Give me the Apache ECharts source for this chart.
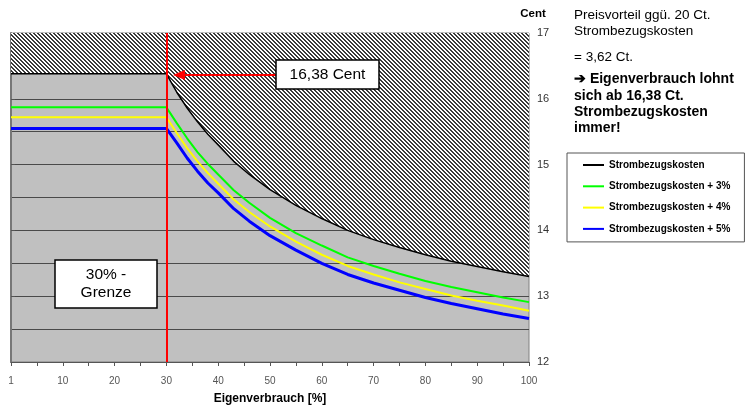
<!DOCTYPE html>
<html>
<head>
<meta charset="utf-8">
<script src="https://cdn.jsdelivr.net/npm/echarts@6/dist/echarts.min.js"></script>
<style>
  html, body { margin: 0; padding: 0; background: #fff; }
  #main { width: 750px; height: 411px; }
</style>
</head>
<body>
<div id="main"></div>
<script>
// Eigenverbrauch [%] (x) and Strombezugskosten in Cent (y)
var xValues     = [0, 30, 32, 34, 36, 38, 40, 43, 46, 50, 55, 60, 65, 70, 75, 80, 85, 90, 95, 100];
var costBase    = [16.38, 16.38, 16.10, 15.86, 15.65, 15.46, 15.30, 15.05, 14.85, 14.62, 14.38, 14.18, 14.00, 13.86, 13.74, 13.63, 13.53, 13.45, 13.37, 13.30];
var costPlus3   = [15.87, 15.87, 15.63, 15.40, 15.19, 15.01, 14.85, 14.61, 14.42, 14.19, 13.96, 13.77, 13.59, 13.46, 13.34, 13.23, 13.14, 13.06, 12.98, 12.91];
var costPlus4   = [15.72, 15.72, 15.48, 15.25, 15.05, 14.87, 14.71, 14.47, 14.28, 14.06, 13.83, 13.63, 13.46, 13.33, 13.21, 13.11, 13.01, 12.93, 12.86, 12.78];
var costPlus5   = [15.55, 15.55, 15.33, 15.10, 14.90, 14.72, 14.57, 14.33, 14.14, 13.92, 13.70, 13.50, 13.33, 13.20, 13.09, 12.98, 12.89, 12.81, 12.73, 12.66];
var seriesNames = ['Strombezugskosten', 'Strombezugskosten + 3%', 'Strombezugskosten + 4%', 'Strombezugskosten + 5%'];
var xTickLabels = ['1', '10', '20', '30', '40', '50', '60', '70', '80', '90', '100'];
var yMin = 12, yMax = 17;
var limitX = 30;

var FONT = '"Liberation Sans", Arial, sans-serif';

function pairs(ys) {
    var out = [];
    for (var i = 0; i < xValues.length; i++) out.push([xValues[i], ys[i]]);
    return out;
}

// Schraffur-Muster fuer die Flaeche oberhalb der Strombezugskosten
var pat = document.createElement('canvas');
pat.width = 4; pat.height = 4;
var pc = pat.getContext('2d');
pc.fillStyle = '#ffffff';
pc.fillRect(0, 0, 4, 4);
pc.fillStyle = '#3a3a3a';
for (var i = 0; i < 4; i++) {
    pc.fillRect(i, i, 1, 1);
    pc.fillRect((i + 1) % 4, i, 1, 1);
}

var myChart = echarts.init(document.getElementById('main'));

function lineSeries(name, data, color, width) {
    return {
        name: name,
        type: 'line',
        data: pairs(data),
        symbol: 'none',
        smooth: false,
        lineStyle: { color: color, width: width },
        itemStyle: { color: color },
        z: 3
    };
}

var black = lineSeries(seriesNames[0], costBase, '#000000', 1.5);
black.areaStyle = { origin: 'end', color: { image: pat, repeat: 'repeat' }, opacity: 1 };
black.z = 2;

var blue = lineSeries(seriesNames[3], costPlus5, '#0000ff', 3);
blue.markLine = {
    silent: true,
    symbol: 'none',
    label: { show: false },
    lineStyle: { color: '#ff0000', width: 2, type: 'solid' },
    data: [{ xAxis: limitX }],
    z: 10
};

var option = {
    animation: false,
    grid: {
        left: 11, right: 221, top: 33, bottom: 49,
        show: true,
        backgroundColor: '#c0c0c0',
        borderColor: '#808080',
        borderWidth: 1,
        outerBoundsMode: 'none'
    },
    legend: {
        orient: 'vertical',
        left: 567, top: 153,
        data: seriesNames,
        itemWidth: 21, itemHeight: 14, itemGap: 7.3,
        padding: [5, 14, 6, 15],
        borderColor: '#555',
        borderWidth: 1,
        backgroundColor: '#fff',
        itemStyle: { opacity: 0 },
        textStyle: { fontSize: 10, fontWeight: 'bold', fontFamily: FONT, color: '#000', lineHeight: 14 }
    },
    xAxis: {
        type: 'value',
        min: 0, max: 100, interval: 10,
        name: 'Eigenverbrauch [%]',
        nameLocation: 'middle',
        nameGap: 31,
        nameTextStyle: { fontSize: 12, fontWeight: 'bold', fontFamily: FONT, color: '#000' },
        axisLine: { show: true, lineStyle: { color: '#555', width: 1 } },
        axisTick: { show: true, length: 4, lineStyle: { color: '#555' } },
        minorTick: { show: true, splitNumber: 2, length: 4, lineStyle: { color: '#555' } },
        splitLine: { show: false },
        axisLabel: {
            margin: 14, fontSize: 10, fontFamily: FONT, color: '#555',
            formatter: function (v) { return xTickLabels[Math.round(v / 10)]; }
        }
    },
    yAxis: {
        type: 'value',
        position: 'right',
        min: yMin, max: yMax, interval: 1,
        axisLine: { show: true, lineStyle: { color: '#777', width: 2 } },
        axisTick: { show: true, length: 4, lineStyle: { color: '#555' } },
        minorTick: { show: false, splitNumber: 2 },
        splitLine: { show: true, lineStyle: { color: '#4a4a4a', width: 1 } },
        minorSplitLine: { show: true, lineStyle: { color: '#4a4a4a', width: 1 } },
        axisLabel: { margin: 8, fontSize: 11, fontFamily: FONT, color: '#333' }
    },
    series: [
        black,
        lineSeries(seriesNames[1], costPlus3, '#00ff00', 2),
        lineSeries(seriesNames[2], costPlus4, '#ffff00', 2),
        blue
    ],
    graphic: [
        // Achsentitel rechts
        { type: 'text', x: 533, y: 14, style: { text: 'Cent', font: 'bold 11.5px ' + FONT, fill: '#000', align: 'center', verticalAlign: 'middle' } },
        // 16,38 Cent Hinweis
        { type: 'line', shape: { x1: 276, y1: 75, x2: 184, y2: 75 }, style: { stroke: '#ff0000', lineWidth: 2 }, z: 100 },
        { type: 'polygon', shape: { points: [[173, 75], [185, 70], [185, 80]] }, style: { fill: '#ff0000' }, z: 100 },
        { type: 'rect', shape: { x: 276, y: 60, width: 103, height: 29 }, style: { fill: '#fff', stroke: '#000', lineWidth: 1.5 }, z: 100 },
        { type: 'text', x: 327.5, y: 75, style: { text: '16,38 Cent', font: '15.5px ' + FONT, fill: '#000', align: 'center', verticalAlign: 'middle' }, z: 101 },
        // 30% Grenze
        { type: 'rect', shape: { x: 55, y: 260, width: 102, height: 48 }, style: { fill: '#fff', stroke: '#000', lineWidth: 1.5 }, z: 100 },
        { type: 'text', x: 106, y: 284, style: { text: '30% -\nGrenze', font: '15.5px ' + FONT, lineHeight: 18, fill: '#000', align: 'center', verticalAlign: 'middle' }, z: 101 },
        // rechter Text
        { type: 'text', x: 574, y: 15, style: { text: 'Preisvorteil ggü. 20 Ct.', font: '13.5px ' + FONT, fill: '#000', verticalAlign: 'middle' } },
        { type: 'text', x: 574, y: 31, style: { text: 'Strombezugskosten', font: '13.5px ' + FONT, fill: '#000', verticalAlign: 'middle' } },
        { type: 'text', x: 574, y: 57, style: { text: '= 3,62 Ct.', font: '13.5px ' + FONT, fill: '#000', verticalAlign: 'middle' } },
        { type: 'text', x: 574, y: 79, style: { text: '\u2794 Eigenverbrauch lohnt', font: 'bold 14px ' + FONT, fill: '#000', verticalAlign: 'middle' } },
        { type: 'text', x: 574, y: 96, style: { text: 'sich ab 16,38 Ct.', font: 'bold 14px ' + FONT, fill: '#000', verticalAlign: 'middle' } },
        { type: 'text', x: 574, y: 112, style: { text: 'Strombezugskosten', font: 'bold 14px ' + FONT, fill: '#000', verticalAlign: 'middle' } },
        { type: 'text', x: 574, y: 128, style: { text: 'immer!', font: 'bold 14px ' + FONT, fill: '#000', verticalAlign: 'middle' } }
    ]
};
myChart.setOption(option);
</script>
</body>
</html>
